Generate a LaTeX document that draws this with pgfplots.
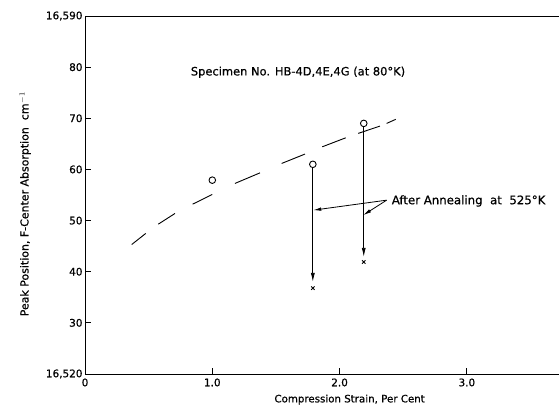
\documentclass[border=0pt]{standalone}
\usepackage{fontspec}
\setmainfont{DejaVu Sans}[FakeBold=0.6]
\usepackage{pgfplots}
\pgfplotsset{compat=1.18}
\usetikzlibrary{arrows.meta}
\begin{document}
\begin{tikzpicture}
\begin{axis}[
  scale only axis, width=474bp, height=358bp,
  xmin=0, xmax=3.724, ymin=16520, ymax=16590,
  axis x line=bottom, axis y line=left,
  axis line style={-, line width=0.9bp},
  scaled x ticks=false, scaled y ticks=false,
  xtick={0,1,2,3}, xticklabels={0,1.0,2.0,3.0},
  ytick={16520,16530,16540,16550,16560,16570,16580,16590},
  yticklabels={{16,520},30,40,50,60,70,80,{16,590}},
  tick align=inside, major tick length=6bp,
  tick style={line width=0.9bp, black},
  ticklabel style={font=\fontsize{10.5}{12}\selectfont},
  xticklabel style={yshift=-1bp},
  yticklabel style={xshift=1bp},
  unbounded coords=jump,
  clip=false,
]
% dashed curve (drawn as its separate dashes)
\addplot[black, line width=0.9bp] coordinates {
 (0.367,16545.32) (0.477,16547.48) (0.5,nan)
 (0.576,16549.30) (0.707,16551.39) (0.75,nan)
 (0.846,16553.21) (1.000,16555.11) (1.05,nan)
 (1.178,16557.26) (1.375,16559.33) (1.4,nan)
 (1.545,16561.17) (1.728,16563.00) (1.8,nan)
 (1.864,16564.42) (2.048,16566.18) (2.1,nan)
 (2.147,16567.05) (2.317,16568.47) (2.35,nan)
 (2.370,16569.00) (2.441,16569.79)
};
% measured points
\addplot[only marks, mark=o, mark size=3.3bp, mark options={line width=0.9bp}] coordinates {
 (1.0,16557.9) (1.79,16561.0) (2.19,16569.0)
};
% after annealing
\addplot[only marks, mark=x, mark size=2.4bp, mark options={line width=0.9bp}] coordinates {
 (1.79,16536.8) (2.19,16541.9)
};
% vertical arrows
\draw[line width=0.8bp, -{Latex[length=9bp,width=4bp]}] (axis cs:1.79,16560.3) -- (axis cs:1.79,16538.0);
\draw[line width=0.8bp, -{Latex[length=9bp,width=4bp]}] (axis cs:2.19,16568.3) -- (axis cs:2.19,16542.9);
% annotation arrows
\draw[line width=0.8bp, -{Latex[length=8bp,width=3.5bp]}] (axis cs:2.370,16553.99) -- (axis cs:1.793,16552.03);
\draw[line width=0.8bp, -{Latex[length=8bp,width=3.5bp]}] (axis cs:2.370,16553.99) -- (axis cs:2.186,16551.06);
% top frame line
\draw[line width=0.9bp] (rel axis cs:0,1) -- (rel axis cs:1,1);
% texts
\node[anchor=west, inner sep=0pt, font=\fontsize{11.5}{13}\selectfont] at (axis cs:0.830,16579.0) {Specimen No. HB-4D,4E,4G (at 80°K)};
\node[anchor=west, inner sep=0pt, font=\fontsize{11.8}{13}\selectfont] at (axis cs:2.409,16553.83) {After Annealing\ \ at\ \ 525°K};
\node[font=\fontsize{10.3}{12}\selectfont] at (axis cs:2.079,16515.0) {Compression Strain, Per Cent};
\node[rotate=90, font=\fontsize{11}{12}\selectfont] at (axis cs:-0.471,16553.2) {Peak Position, F-Center Absorption\ \ cm$^{-1}$};
% bounding box corners
\coordinate (bbl) at (axis cs:-0.668,16512.31);
\coordinate (bbr) at (axis cs:3.724,16593.13);
\end{axis}
\pgfresetboundingbox
\path[use as bounding box] (bbl) rectangle (bbr);
\end{tikzpicture}
\end{document}
